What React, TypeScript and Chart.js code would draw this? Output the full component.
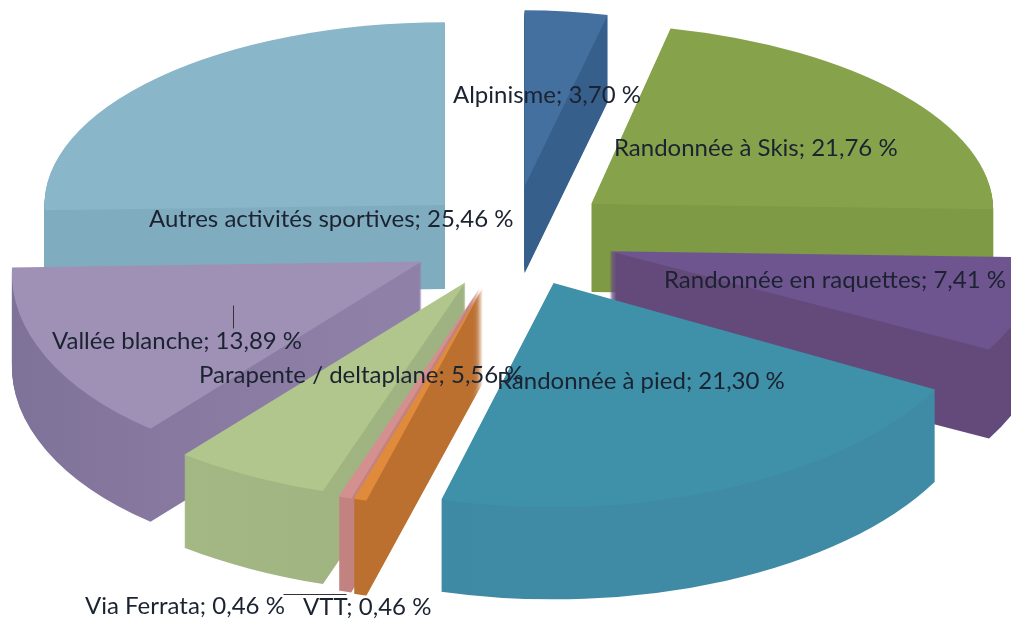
import React, { useEffect, useRef } from "react";
import { Chart, registerables } from "chart.js";

Chart.register(...registerables);

const categories = ["Alpinisme", "Randonnée à Skis", "Randonnée en raquettes", "Randonnée à pied", "VTT", "Via Ferrata", "Parapente / deltaplane", "Vallée blanche", "Autres activités sportives"];
const shares = [3.7, 21.76, 7.41, 21.3, 0.46, 0.46, 5.56, 13.89, 25.46];
const topColors = ["#44709f", "#86a24b", "#6f5590", "#3f91a9", "#e08a3c", "#d4908f", "#b0c68c", "#9f90b6", "#89b6c9"];
const wallLeft = ["#365f8c", "#7e9a45", "#644a7b", "#3b86a0", "#bb7030", "#c28380", "#a6bb84", "#7f7298", "#80acc0"];
const wallRight = ["#365f8c", "#7e9a45", "#644a7b", "#3f8aa4", "#bb7030", "#c28380", "#9fb382", "#8f80a8", "#80acc0"];
const paintOrder = [8, 0, 1, 7, 2, 6, 5, 4, 3];
const explode = [100, 105, 103, 100, 100, 100, 96, 100, 95];
const nudgeX = [3, -2, 0, 4, 0, 0, 1, 1, 3];
const nudgeY = [-4, -4, -2, -3, 0, 0, 0, -1, -2];
const scaleX = [0.82, 0.913, 0.98, 0.985, 1.02, 1.02, 1.03, 0.93, 0.91];
const scaleY = [0.8, 0.82, 0.94, 1.02, 1, 1, 1, 0.97, 0.83];
const skew = [0, 0.031, 0, 0, 0, 0, 0, -0.05, 0];
const depths = [87, 88, 89, 92, 95, 94, 93, 93, 84];
const labelX = [453, 614, 664, 497, 303, 85, 199, 52, 149];
const labelY = [95, 148, 280, 381, 607, 606, 375, 341, 219];
const leaderLines = [[233, 305, 233, 328], [283, 594, 346, 594]];
const tilt = 0.5;

const formatShare = (v: number) => v.toFixed(2).replace(".", ",") + " %";

const pie3d = {
  id: "pie3d",
  beforeDatasetDraw(chart: any) {
    const ctx = chart.ctx;
    const arcs = chart.getDatasetMeta(0).data;
    for (const i of paintOrder) {
      const el = arcs[i];
      const mid = (el.startAngle + el.endAngle) / 2;
      const ex = Math.cos(mid) * explode[i] + nudgeX[i];
      const ey = Math.sin(mid) * explode[i] * tilt + nudgeY[i];
      const paint = (dy: number, fill: any) => {
        ctx.save();
        ctx.translate(el.x + ex, el.y + ey + dy);
        ctx.transform(scaleX[i], 0, skew[i], scaleY[i] * tilt, 0, 0);
        ctx.translate(-el.x, -el.y);
        const ghost = Object.create(el);
        ghost.options = Object.assign(Object.create(el.options), { backgroundColor: fill, borderWidth: 0 });
        el.draw.call(ghost, ctx);
        ctx.restore();
      };
      const grad = ctx.createLinearGradient(el.x - 440, 0, el.x + 440, 0);
      grad.addColorStop(0, wallLeft[i]);
      grad.addColorStop(0.45, wallRight[i]);
      grad.addColorStop(1, wallRight[i]);
      for (let d = depths[i]; d >= 1; d--) paint(d, grad);
      paint(0, topColors[i]);
    }
    return false;
  },
  afterDraw(chart: any) {
    const ctx = chart.ctx;
    ctx.save();
    ctx.fillStyle = "#1b2230";
    ctx.font = "24px Lato";
    ctx.textBaseline = "middle";
    categories.forEach((c, i) => ctx.fillText(`${c}; ${formatShare(shares[i])}`, labelX[i], labelY[i]));
    ctx.strokeStyle = "#333333";
    ctx.lineWidth = 1;
    for (const [a, b, c, d] of leaderLines) {
      ctx.beginPath();
      ctx.moveTo(a + 0.5, b + 0.5);
      ctx.lineTo(c + 0.5, d + 0.5);
      ctx.stroke();
    }
    ctx.restore();
  },
};

export default function App() {
  const ref = useRef<HTMLCanvasElement>(null);
  useEffect(() => {
    document.body.style.margin = "0";
    document.body.style.background = "#ffffff";
    const chart = new Chart(ref.current!, {
      type: "pie",
      data: { labels: categories, datasets: [{ data: shares, backgroundColor: topColors, borderWidth: 0 }] },
      options: {
        responsive: false,
        animation: false,
        radius: 440,
        layout: { padding: { left: 9, bottom: 141 } },
        plugins: { legend: { display: false }, tooltip: { enabled: false } },
      } as any,
      plugins: [pie3d],
    });
    return () => chart.destroy();
  }, []);
  return <canvas ref={ref} width={1011} height={621} style={{ display: "block", filter: "blur(0.4px)" }} />;
}
